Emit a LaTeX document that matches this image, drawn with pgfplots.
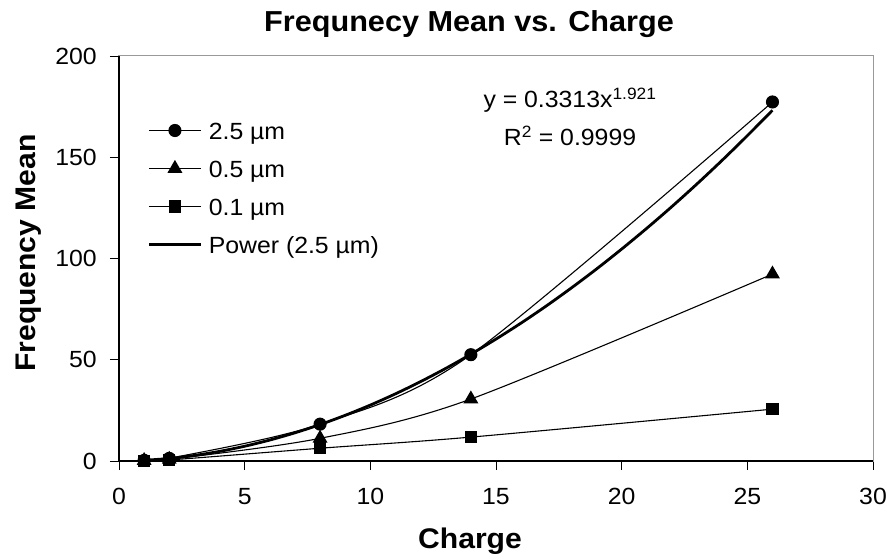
\documentclass[border=0pt]{standalone}
\usepackage{fontspec}
\setmainfont{Liberation Sans}[FakeStretch=1.06]
\usepackage{pgfplots}
\pgfplotsset{compat=1.18}
\newcommand{\tickfont}{\fontsize{23.5}{27}\selectfont}
\newcommand{\labfont}{\fontsize{28.5}{33}\selectfont\bfseries}
\newcommand{\titfont}{\fontsize{29}{34}\selectfont\bfseries}
\begin{document}
\begin{tikzpicture}
\useasboundingbox (-119bp,-99bp) rectangle (768bp,461bp);
\begin{axis}[
  scale only axis,
  width=754bp, height=405bp,
  xmin=0, xmax=30, ymin=0, ymax=200,
  xtick={0,5,...,30}, ytick={0,50,...,200},
  xtick pos=bottom, ytick pos=left,
  tick align=outside,
  major tick length=9bp,
  tick style={black, line width=0.8bp},
  axis line style={draw=black!40, line width=1bp},
  /pgf/number format/assume math mode=true,
  ticklabel style={font=\tickfont, inner sep=0pt},
  xticklabel style={yshift=-18bp},
  yticklabel style={xshift=-13bp},
  clip=false,
  legend cell align=left,
  legend image code/.code={\draw[mark repeat=2,mark phase=2,#1] plot coordinates {(0bp,0bp) (25.5bp,0bp) (51bp,0bp)};},
  legend style={at={(0.0385,0.837)}, anchor=north west, draw=none, fill=none,
    inner sep=0pt, outer sep=0pt, row sep=21bp, column sep=7bp,
    font=\tickfont,
    nodes={inner sep=0pt, text height=17bp, text depth=0bp}},
]
\addplot[black, line width=1.1bp, smooth, mark=*, mark size=6bp, mark options={solid, fill=black}]
  coordinates {(1,0.33) (2,1.3) (8,18.2) (14,52.5) (26,177.3)};
\addlegendentry{2.5 µm}
\addplot[black, line width=1.1bp, smooth, mark=triangle*, mark size=7.5bp, mark options={solid, fill=black}]
  coordinates {(1,0.2) (2,0.8) (8,11.2) (14,30.6) (26,92.3)};
\addlegendentry{0.5 µm}
\addplot[black, line width=1.1bp, smooth, mark=square*, mark size=5.5bp, mark options={solid, fill=black}]
  coordinates {(1,0.1) (2,0.5) (8,6.3) (14,11.8) (26,25.6)};
\addlegendentry{0.1 µm}
\addplot[black, line width=2.8bp, smooth, no marks]
  coordinates {(1,0.331) (2,1.255) (3,2.734) (4,4.751) (5,7.293) (6,10.35) (7,13.92) (8,17.99) (9,22.56) (10,27.62) (11,33.17) (12,39.21) (13,45.72) (14,52.74) (15,60.21) (16,68.14) (17,76.56) (18,85.47) (19,94.82) (20,104.66) (21,114.93) (22,125.66) (23,136.86) (24,148.52) (25,160.65) (26,173.2)};
\addlegendentry{Power (2.5 µm)}
\draw[black, line width=1.2bp] (rel axis cs:0,1) -- (rel axis cs:0,0) -- (rel axis cs:1,0);
\end{axis}
\node[anchor=base, inner sep=0pt] at (350bp,429bp) {\titfont Frequnecy Mean vs. Charge};
\node[anchor=base, inner sep=0pt] at (351bp,-87bp) {\labfont Charge};
\node[rotate=90, inner sep=0pt] at (-90bp,208bp) {\labfont Frequency Mean};
\node[anchor=base, inner sep=0pt] at (451bp,353bp) {\tickfont y = 0.3313x\textsuperscript{1.921}};
\node[anchor=base, inner sep=0pt] at (451bp,315bp) {\tickfont R\textsuperscript{2} = 0.9999};
\end{tikzpicture}
\end{document}
